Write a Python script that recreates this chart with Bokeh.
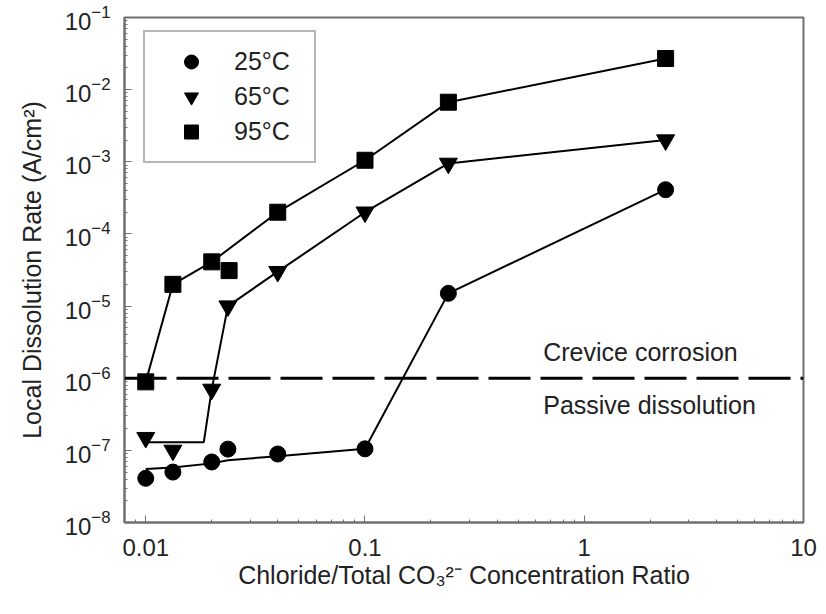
from bokeh.plotting import figure
from bokeh.models import Span, Label, Legend, LegendItem, CustomJSTickFormatter
from bokeh.embed import file_html
from bokeh.resources import INLINE

# ---- data ----
ratio_25 = [0.01, 0.0133, 0.02, 0.0237, 0.04, 0.1, 0.24, 2.35]
rate_25 = [4.1e-8, 5.0e-8, 6.9e-8, 1.04e-7, 8.9e-8, 1.05e-7, 1.5e-5, 4.1e-4]
fit_ratio_25 = [0.01, 0.0133, 0.02, 0.0237, 0.04, 0.1, 0.24, 2.35]
fit_rate_25 = [5.5e-8, 5.8e-8, 6.6e-8, 7.3e-8, 8.3e-8, 1.05e-7, 1.5e-5, 4.1e-4]

ratio_65 = [0.01, 0.0133, 0.02, 0.0237, 0.04, 0.1, 0.24, 2.35]
rate_65 = [1.5e-7, 1.0e-7, 7.0e-7, 1.0e-5, 3.0e-5, 2.0e-4, 9.5e-4, 2.0e-3]
fit_ratio_65 = [0.01, 0.0184, 0.02, 0.0237, 0.04, 0.1, 0.24, 2.35]
fit_rate_65 = [1.3e-7, 1.3e-7, 7.0e-7, 1.0e-5, 3.0e-5, 2.0e-4, 9.5e-4, 2.0e-3]

ratio_95 = [0.01, 0.0133, 0.02, 0.024, 0.04, 0.1, 0.24, 2.35]
rate_95 = [8.9e-7, 2.0e-5, 4.1e-5, 3.1e-5, 2.0e-4, 1.05e-3, 6.7e-3, 2.7e-2]
fit_ratio_95 = [0.01, 0.0133, 0.02, 0.04, 0.1, 0.24, 2.35]
fit_rate_95 = [8.9e-7, 2.0e-5, 4.1e-5, 2.0e-4, 1.05e-3, 6.7e-3, 2.7e-2]

series_labels = ["25°C", "65°C", "95°C"]
threshold_rate = 1e-6
region_labels = ["Crevice corrosion", "Passive dissolution"]
region_label_x = [0.65, 0.65]
region_label_y = [2.3e-6, 4.2e-7]

FONT = "Liberation Sans"
GRAY = "#707070"

p = figure(width=826, height=614, x_axis_type="log", y_axis_type="log",
           x_range=(0.008, 10), y_range=(1e-8, 1e-1),
           output_backend="svg", toolbar_location=None,
           min_border_left=124, min_border_right=23,
           min_border_top=17, min_border_bottom=92)

p.xgrid.visible = False
p.ygrid.visible = False
p.outline_line_color = GRAY
p.outline_line_width = 2
p.background_fill_color = "white"
p.border_fill_color = "white"

for ax in (p.xaxis[0], p.yaxis[0]):
    ax.major_tick_in = 7
    ax.major_tick_out = 0
    ax.minor_tick_in = 3
    ax.minor_tick_out = 0
    ax.axis_line_color = GRAY
    ax.axis_line_width = 2
    ax.major_tick_line_color = GRAY
    ax.minor_tick_line_color = GRAY
    ax.major_tick_line_width = 1
    ax.minor_tick_line_width = 1
    ax.major_label_text_font = FONT
    ax.major_label_text_font_size = "24px"
    ax.major_label_text_color = "#222222"
    ax.axis_label_text_font = FONT
    ax.axis_label_text_font_size = "25px"
    ax.axis_label_text_font_style = "normal"
    ax.axis_label_text_color = "#222222"

p.xaxis.formatter = CustomJSTickFormatter(code="return Number(tick.toPrecision(3)).toString();")
p.xaxis.major_label_standoff = 16
p.xaxis.axis_label_standoff = 2
p.xaxis.axis_label = "Chloride/Total CO\u2083\u00b2\u207b Concentration Ratio"
p.yaxis.major_label_standoff = 14
p.yaxis.axis_label_standoff = 16
p.yaxis.axis_label = "Local Dissolution Rate (A/cm\u00b2)"
p.yaxis.ticker.num_minor_ticks = 10

# threshold line
p.add_layout(Span(location=threshold_rate, dimension="width", line_color="black",
                  line_width=3, line_dash="42 10"))

# lines
p.line(fit_ratio_25, fit_rate_25, line_color="black", line_width=2)
p.line(fit_ratio_65, fit_rate_65, line_color="black", line_width=2)
p.line(fit_ratio_95, fit_rate_95, line_color="black", line_width=2)

# markers
r25 = p.scatter(ratio_25, rate_25, marker="circle", size=16, color="black")
r65 = p.scatter(ratio_65, rate_65, marker="inverted_triangle", size=18, color="black")
r95 = p.scatter(ratio_95, rate_95, marker="square", size=16, color="black")

for txt, lx, ly in zip(region_labels, region_label_x, region_label_y):
    p.add_layout(Label(x=lx, y=ly, text=txt, text_font=FONT, text_font_size="25px",
                       text_color="#222222", text_baseline="middle", text_align="left"))

legend = Legend(items=[LegendItem(label=series_labels[0], renderers=[r25]),
                       LegendItem(label=series_labels[1], renderers=[r65]),
                       LegendItem(label=series_labels[2], renderers=[r95])],
                location=(19, 359), orientation="vertical",
                glyph_width=68, glyph_height=35, spacing=0, padding=12,
                label_standoff=9, label_width=68, label_height=35,
                label_text_font=FONT, label_text_font_size="25px", label_text_color="#222222",
                border_line_color=GRAY, border_line_width=2,
                background_fill_color="white", background_fill_alpha=1.0,
                margin=0)
p.add_layout(legend)

open("out.html", "w").write(file_html(p, INLINE))
